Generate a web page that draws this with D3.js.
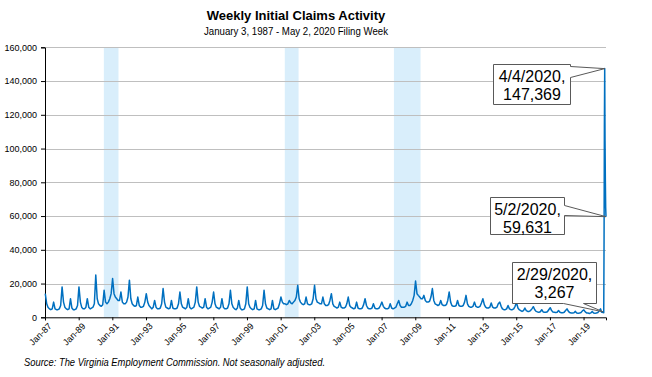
<!DOCTYPE html>
<html>
<head>
<meta charset="utf-8">
<script src="https://cdn.jsdelivr.net/npm/d3@7"></script>
<style>
body { margin: 0; background: #fff; }
svg text { font-family: "Liberation Sans", Arial, sans-serif; }
</style>
</head>
<body>
<div id="chart"></div>
<script>
// monthly readings (thousands of claims), Jan..Dec, one row per year
var claimYears = [1987,1988,1989,1990,1991,1992,1993,1994,1995,1996,1997,1998,1999,2000,2001,2002,2003,
                  2004,2005,2006,2007,2008,2009,2010,2011,2012,2013,2014,2015,2016,2017,2018,2019]
var monthlyClaims = [
  [14, 8, 6, 5, 4.5, 5, 9, 5, 4.5, 4.5, 5, 7],
  [18, 9, 6, 5, 4.5, 5, 11, 5.5, 4.5, 4.5, 5, 7],
  [18, 9, 6, 5, 5, 6, 11, 6, 5, 5.5, 6, 8],
  [25, 11, 8, 7, 6.5, 7.5, 16, 9, 8, 9, 11, 14],
  [23, 14, 12, 11, 10, 10, 15, 9, 8, 8, 9, 12],
  [22, 11, 8, 7, 6.5, 7, 12, 7, 6, 6, 6.5, 9],
  [14, 9, 7, 6, 5, 6, 10, 6, 5, 5, 5.5, 8],
  [17, 9, 6, 5.5, 5, 5.5, 10, 5.5, 5, 5, 5.5, 8],
  [15, 8, 6, 5.5, 5, 6, 11, 6, 5, 5.5, 6, 9],
  [18, 9, 6.5, 6, 5.5, 6, 11, 6, 5, 5.5, 6, 9],
  [15, 8, 6, 5.5, 5, 6, 11, 6, 5, 5, 5.5, 8],
  [16, 8, 6, 5, 4.5, 5.5, 10, 5.5, 4.5, 4.5, 5, 8],
  [18, 8, 6, 5, 4.5, 5, 10, 5, 4.5, 4.5, 5, 7],
  [16, 8, 5.5, 5, 4.5, 5, 10, 5, 4.5, 5, 5.5, 8],
  [12, 9, 8, 8, 7.5, 8, 10, 8.5, 8, 9, 10, 12],
  [19, 11, 9, 8, 7.5, 8, 12, 8, 7.5, 7.5, 8, 11],
  [19, 11, 9, 8.5, 8, 8, 12, 8, 7, 7, 7.5, 10],
  [14, 8, 6.5, 6, 5.5, 6, 9, 6, 5.5, 5.5, 6, 8],
  [12, 7, 6, 5.5, 5, 5.5, 9, 5.5, 5, 5, 5.5, 7.5],
  [11, 7, 5.5, 5, 5, 5.5, 8, 5.5, 5, 5, 5.5, 7],
  [9, 6.5, 5.5, 5, 5, 5.5, 8, 5.5, 5, 5.5, 6, 8],
  [10, 7, 6, 6, 6, 6.5, 9, 7, 7, 8, 10, 13],
  [21.5, 14, 13, 12, 11, 11, 13, 10, 9, 9, 9.5, 12],
  [17, 10, 8, 7.5, 7, 7.5, 10, 7.5, 7, 7, 7.5, 10],
  [15, 9, 7, 6.5, 6.5, 7, 10, 7, 6.5, 6.5, 7, 9],
  [13, 8, 6.5, 6, 6, 6.5, 9, 6.5, 6, 6, 6.5, 8.5],
  [11, 7.5, 6, 5.5, 5.5, 6, 8.5, 6, 5.5, 5.5, 6, 8],
  [9, 6.5, 5, 4.5, 4.5, 5, 7, 5, 4.5, 4.5, 5, 6.5],
  [8.7, 5.5, 4.5, 4, 3.5, 4, 5.5, 4, 3.5, 3.5, 4, 5],
  [6.3, 4.5, 3.5, 3.2, 3, 3.3, 4.5, 3.2, 3, 3, 3.3, 4.5],
  [5.7, 4, 3.2, 3, 2.8, 3, 4, 3, 2.7, 2.7, 3, 4],
  [5, 3.5, 2.8, 2.6, 2.5, 2.7, 3.5, 2.6, 2.4, 2.5, 2.8, 3.8],
  [4.4, 3.2, 2.6, 2.5, 2.3, 2.6, 3.5, 2.5, 2.4, 2.5, 2.8, 3.8]
]

// weekly 2020
var weeks2020 = ["2020-01-04","2020-01-11","2020-01-18","2020-01-25","2020-02-01","2020-02-08","2020-02-15",
                 "2020-02-22","2020-02-29","2020-03-07","2020-03-14","2020-03-21","2020-03-28","2020-04-04",
                 "2020-04-11","2020-04-18","2020-04-25","2020-05-02"]
var claims2020 = [5000, 4500, 3500, 3200, 3000, 2900, 3100, 3000, 3267, 2900, 2700, 46277, 112497, 147369,
                  104740, 81000, 65000, 59631]

// recessions (shaded)
var recessions = [["1990-07-01","1991-05-15"], ["2001-04-01","2002-01-25"], ["2007-09-25","2009-04-25"]]

var tickYears = [1987,1989,1991,1993,1995,1997,1999,2001,2003,2005,2007,2009,2011,2013,2015,2017,2019]
var yTicks = [0,20000,40000,60000,80000,100000,120000,140000,160000]

var callouts = [
  {date: "2020-04-04", value: 147369, label: "4/4/2020,"},
  {date: "2020-05-02", value: 59631, label: "5/2/2020,"},
  {date: "2020-02-29", value: 3267, label: "2/29/2020,"}
]

var W = 652, H = 377
var pl = 45, pr = 606, pt = 47.3, pb = 317.3
var parse = d3.timeParse("%Y-%m-%d")

var series = []
monthlyClaims.forEach(function(row, i){
  row.forEach(function(v, m){ series.push({date: new Date(claimYears[i], m, 7), value: v * 1000}) })
})
weeks2020.forEach(function(d, i){ series.push({date: parse(d), value: claims2020[i]}) })

var x = d3.scaleTime().domain([new Date(1987,0,1), parse("2020-05-02")]).range([pl, pr])
var y = d3.scaleLinear().domain([0,160000]).range([pb, pt])

var svg = d3.select("#chart").append("svg").attr("width", W).attr("height", H)

// recession bands
svg.selectAll(".band").data(recessions).enter().append("rect")
  .attr("class","band")
  .attr("x", function(d){ return x(parse(d[0])) })
  .attr("width", function(d){ return x(parse(d[1])) - x(parse(d[0])) })
  .attr("y", pt)
  .attr("height", pb - pt)
  .attr("fill", "#d9eefb")

svg.selectAll(".grid").data(yTicks.slice(1)).enter().append("line")
  .attr("class","grid")
  .attr("x1", pl + 0.5).attr("x2", pr)
  .attr("y1", function(d){ return Math.round(y(d)) + 0.5 })
  .attr("y2", function(d){ return Math.round(y(d)) + 0.5 })
  .attr("stroke","#bfbfbf")

// y axis
var yAxis = svg.append("g").attr("transform","translate(" + pl + ",0)")
  .call(d3.axisLeft(y).tickValues(yTicks).tickFormat(d3.format(",")).tickSize(4).tickPadding(4))
yAxis.selectAll("text").style("font-size","9px").attr("fill","#000")
yAxis.select(".domain").attr("stroke","#000")
yAxis.selectAll(".tick line").attr("stroke","#000")

// x axis
var xAxis = svg.append("g").attr("transform","translate(0," + pb + ")")
  .call(d3.axisBottom(x).tickValues(tickYears.map(function(yr){ return new Date(yr,0,1) }))
    .tickFormat(d3.timeFormat("Jan-%y")).tickSize(3))
xAxis.select(".domain").attr("stroke","#000")
xAxis.selectAll(".tick line").attr("stroke","#000")
xAxis.selectAll("text")
  .style("font-size","9px")
  .attr("fill","#000")
  .attr("text-anchor","end")
  .attr("dx","-0.2em")
  .attr("dy","0.6em")
  .attr("transform","rotate(-45)")

// line
var line = d3.line().x(function(d){ return x(d.date) }).y(function(d){ return y(d.value) })
svg.append("path").datum(series)
  .attr("d", line)
  .attr("fill","none")
  .attr("stroke","#0070c0")
  .attr("stroke-width",1.5)
  .attr("stroke-linejoin","round")

// callouts
var boxes = [
  {w: 77, h: 40, dx: -112, dy: -5, side: "right", a1: 2, a2: 13},
  {w: 74, h: 37, dx: -116, dy: -20, side: "right", a1: 8, a2: 18},
  {w: 84, h: 41, dx: -91, dy: -50, side: "bottom", a1: 51, a2: 71}
]
callouts.forEach(function(c, i){
  var b = boxes[i]
  var px = x(parse(c.date)), py = y(c.value)
  var bx = Math.round(px + b.dx) + 0.5, by = Math.round(py + b.dy) + 0.5
  var p
  if (b.side == "right") {
    p = "M" + bx + "," + by + "H" + (bx + b.w) + "V" + (by + b.a1) + "L" + px + "," + py +
        "L" + (bx + b.w) + "," + (by + b.a2) + "V" + (by + b.h) + "H" + bx + "Z"
  } else {
    p = "M" + bx + "," + by + "H" + (bx + b.w) + "V" + (by + b.h) + "H" + (bx + b.a2) +
        "L" + px + "," + py + "L" + (bx + b.a1) + "," + (by + b.h) + "H" + bx + "Z"
  }
  svg.append("path").attr("d", p).attr("fill","#fff").attr("stroke","#595959").attr("stroke-width",1)
  var t = svg.append("text").attr("text-anchor","middle").style("font-size","16px").attr("fill","#000")
  t.append("tspan").attr("x", bx + b.w/2).attr("y", by + 17).text(c.label)
  t.append("tspan").attr("x", bx + b.w/2).attr("y", by + 35).text(d3.format(",")(c.value))
})

// titles
svg.append("text").attr("x", 296).attr("y", 20).attr("text-anchor","middle")
  .style("font-size","13px").style("font-weight","bold")
  .text("Weekly Initial Claims Activity")
svg.append("text").attr("x", 204).attr("y", 35)
  .style("font-size","11px")
  .attr("textLength", 184).attr("lengthAdjust","spacingAndGlyphs")
  .text("January 3, 1987 - May 2, 2020 Filing Week")
svg.append("text").attr("x", 24).attr("y", 366)
  .style("font-size","11px")
  .style("font-style","italic")
  .attr("textLength", 301).attr("lengthAdjust","spacingAndGlyphs")
  .text("Source: The Virginia Employment Commission. Not seasonally adjusted.")
</script>
</body>
</html>
